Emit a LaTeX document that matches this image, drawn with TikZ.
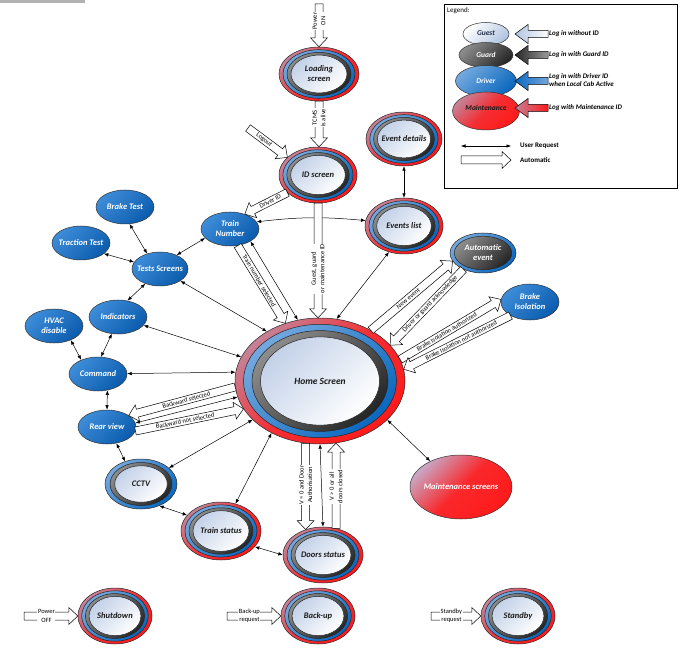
\documentclass[tikz,border=0pt]{standalone}
\usepackage{fontspec}
\setmainfont{Carlito}
\usetikzlibrary{shapes.geometric,calc,arrows.meta}

\definecolor{ringred}{HTML}{FF1A1A}
\definecolor{ringmauve}{HTML}{C68196}
\definecolor{ringblueL}{HTML}{73A8DE}
\definecolor{ringblueD}{HTML}{0A68BE}
\definecolor{ringdarkL}{HTML}{8C8C8C}
\definecolor{ringdarkD}{HTML}{262626}
\definecolor{coreL}{HTML}{C3D1E8}
\definecolor{nodeblueL}{HTML}{3C8CD8}
\definecolor{nodeblueD}{HTML}{0C5CAE}
\definecolor{maintL}{HTML}{C9A6C4}
\definecolor{guestL}{HTML}{AFC3E0}
\definecolor{navytext}{HTML}{1F2D4A}

\tikzset{
  outline/.style={draw=black!85, line width=0.5pt},
  redring/.style={outline, top color=ringmauve, bottom color=ringred, middle color=ringred!80!ringmauve, shading angle=45},
  bluering/.style={outline, top color=ringblueL, bottom color=ringblueD, shading angle=45},
  darkring/.style={outline, top color=ringdarkL, bottom color=ringdarkD, shading angle=45},
  corefill/.style={outline, top color=coreL, bottom color=white, shading angle=45},
  stateshape/.style={ellipse, inner sep=0pt, draw=none},
  statetext/.style={font=\fontsize{8.5}{10}\selectfont\bfseries\itshape, align=center, text=black!90, inner sep=0pt},
  bluestate/.style={ellipse, inner sep=0pt, draw=black!80, line width=0.5pt,
    top color=nodeblueL, bottom color=nodeblueD, shading angle=45},
  bluetext/.style={font=\fontsize{8.5}{10}\selectfont\bfseries\itshape, align=center, text=white, inner sep=0pt},
  ureq/.style={<->, line width=0.5pt, black},
  flowbody/.style={draw=black, line width=0.5pt, fill=white, line join=miter},
  flowlabel/.style={font=\fontsize{6.5}{8.5}\selectfont, fill=white, inner sep=0.6pt, align=center},
  legtext/.style={font=\fontsize{7}{8.5}\selectfont\bfseries\itshape, anchor=west, align=left, inner sep=0pt},
  legkey/.style={font=\fontsize{7}{8.5}\selectfont\bfseries, anchor=west, inner sep=0pt},
}

% state with red, blue and dark rings around a light core
\newcommand{\ringstate}[6][]{%
  \path[redring]  #3 ellipse [x radius=#4pt, y radius=#5pt];
  \path[bluering] #3 ellipse [x radius=0.9*#4pt, y radius=0.9*#5pt];
  \path[darkring] #3 ellipse [x radius=0.8*#4pt, y radius=0.8*#5pt];
  \path[corefill] #3 ellipse [x radius=0.7*#4pt, y radius=0.7*#5pt];
  \node[stateshape, minimum width=2*#4pt, minimum height=2*#5pt] (#2) at #3 {};
  \node[statetext,#1] (#2-text) at #3 {#6};
}

% plain blue state
\newcommand{\bluestate}[5]{%
  \node[bluestate, minimum width=2*#3pt, minimum height=2*#4pt] (#1) at #2 {};
  \node[bluetext] (#1-text) at #2 {#5};
}

% hollow block arrow for automatic transitions
\newcount\flowidx
\def\flowshaft{4pt}
\def\flowwing{8.5pt}
\def\flowhead{9pt}
\newcommand{\autoflow}[6][]{%
  \global\advance\flowidx by 1
  \coordinate (af-a) at #2;
  \coordinate (af-b) at #3;
  \coordinate (af-h) at ($(af-b)!\flowhead!(af-a)$);
  \draw[flowbody,#1] ($(af-a)!\flowshaft!90:(af-b)$) -- ($(af-h)!\flowshaft!90:(af-b)$)
    -- ($(af-h)!\flowwing!90:(af-b)$) -- (af-b) -- ($(af-h)!\flowwing!-90:(af-b)$)
    -- ($(af-h)!\flowshaft!-90:(af-b)$) -- ($(af-a)!\flowshaft!-90:(af-b)$) -- cycle;
  \if\relax\detokenize{#6}\relax\else
    \node[flowlabel, rotate=#5] (flowlabel\the\flowidx) at ($(af-a)!#4!(af-h)$) {#6};
  \fi
}

\begin{document}
\begin{tikzpicture}[x=1pt, y=-1pt, >={Latex[length=4.5pt,width=3.5pt]}]
\useasboundingbox (0,0) rectangle (681,650);
\fill[black!30] (0,0) rectangle (85,3);

% ---------- ringed states ----------
\ringstate{loading}{(319,74)}{40}{27}{Loading\\screen}
\ringstate{idscr}{(318,175)}{39}{28}{ID screen}
\ringstate{evdet}{(404,139)}{38}{27}{Event details}
\ringstate{evlist}{(404,226)}{39}{28}{Events list}
\ringstate[font=\fontsize{9.5}{11}\selectfont\bfseries\itshape]{home}{(320,381)}{85}{63}{Home Screen}
\ringstate{trainst}{(221,531)}{40}{29}{Train status}
\ringstate{doors}{(323,555)}{40}{28}{Doors status}
\ringstate{shutdown}{(115,616)}{37}{28}{Shutdown}
\ringstate{backup}{(318,616)}{37}{28}{Back-up}
\ringstate{standby}{(518,616)}{37}{28}{Standby}

% CCTV: blue and dark rings only
\path[bluering] (141,484) ellipse [x radius=36pt, y radius=25pt];
\path[darkring] (141,484) ellipse [x radius=0.86*36pt, y radius=0.86*25pt];
\path[corefill] (141,484) ellipse [x radius=0.73*36pt, y radius=0.73*25pt];
\node[stateshape, minimum width=72pt, minimum height=50pt] (cctv) at (141,484) {};
\node[statetext] (cctv-text) at (141,484) {CCTV};

% Automatic event: blue ring around a dark core
\path[bluering] (483,253) ellipse [x radius=33pt, y radius=20pt];
\path[darkring] (483,253) ellipse [x radius=0.87*33pt, y radius=0.84*20pt];
\node[stateshape, minimum width=66pt, minimum height=40pt] (autoev) at (483,253) {};
\node[bluetext] (autoev-text) at (483,253) {Automatic\\event};

% Maintenance screens
\node[ellipse, inner sep=0pt, draw=black!80, line width=0.5pt, minimum width=102pt, minimum height=64pt,
  top color=maintL, bottom color=ringred, middle color=ringred!90!maintL, shading angle=45] (maint) at (461,487) {};
\node[bluetext] (maint-text) at (461,487) {Maintenance screens};

% ---------- blue states ----------
\bluestate{trainnum}{(230,229)}{29}{17}{Train\\Number}
\bluestate{braket}{(125,207)}{29}{17}{Brake Test}
\bluestate{traction}{(81,243)}{29}{17}{Traction Test}
\bluestate{tests}{(160,269)}{28}{17}{Tests Screens}
\bluestate{indic}{(118,317)}{29}{17}{Indicators}
\bluestate{hvac}{(54,326)}{29}{17}{HVAC\\disable}
\bluestate{command}{(98,374)}{29}{17}{Command}
\bluestate{rear}{(107,427)}{29}{17}{Rear view}
\bluestate{brakeiso}{(530,302)}{29}{18}{Brake\\Isolation}

% ---------- user requests ----------
\draw[ureq] (evdet.south) -- (evlist.north);
\draw[ureq] (trainnum.15) to[bend left=6] (evlist.172);
\draw[ureq] (tests.40) -- (trainnum.-160);
\draw[ureq] (braket.-75) -- (tests.130);
\draw[ureq] (traction.-25) -- (tests.165);
\draw[ureq] (tests.-135) -- (indic.60);
\draw[ureq] (tests) -- (home.137);
\draw[ureq] (indic) -- (home.163);
\draw[ureq] (hvac.-40) -- (command.140);
\draw[ureq] (indic.-110) -- (command.80);
\draw[ureq] (command) -- (home.174);
\draw[ureq] (command.-60) -- (rear.north);
\draw[ureq] (rear.8) -- (home.-169);
\draw[ureq] (rear.-60) -- (cctv.125);
\draw[ureq] (home) -- (cctv);
\draw[ureq] (home.-133) -- (trainst.62);
\draw[ureq] (cctv.-50) -- (trainst.155);
\draw[ureq] (trainst.-25) -- (doors.180);
\draw[ureq] (home.south) -- (doors.north);
\draw[ureq] (home.-30) -- (maint.140);
\draw[ureq] (home.75) -- (evlist.240);
\draw[ureq] (trainnum.-31) -- (home.110);

% ---------- automatic transitions ----------
\coordinate (poweron) at (319,4);
\coordinate (logout) at (248,128);
\autoflow{(poweron)}{(loading.north)}{0.5}{90}{Power\\ON}
\autoflow{(loading.south)}{(loading.south |- idscr.north)}{0.45}{90}{TCMS\\is alive}
\autoflow{(logout)}{(idscr.150)}{0.5}{-38}{Logout}
\autoflow{(idscr.-150)}{(trainnum.45)}{0.5}{27}{Driver ID}
\autoflow{(idscr.south)}{(idscr.south |- home.north)}{0.62}{90}{Guest, guard\\or maintenance ID}
\autoflow{(trainnum.-65)}{(home.121)}{0.5}{-59}{Train number selected}
\autoflow{(home.-176)}{(rear.28)}{0.5}{15}{Backward selected}
\autoflow{(rear.-8)}{(home.-160)}{0.5}{11.5}{Backward not selected}
\autoflow{(home.-103)}{(home.-103 |- doors.124)}{0.54}{90}{V = 0 and Door\\Authorisation}
\autoflow{(doors.64)}{(doors.64 |- home.-76)}{0.55}{90}{V > 0 or all\\doors closed}
\autoflow{(home.45)}{(autoev.195)}{0.5}{40}{New event}
\autoflow{(autoev.-140)}{(home.27)}{0.5}{46}{Driver or guard acknowledge}
\autoflow{(home.15)}{(brakeiso.175)}{0.5}{31}{Brake Isolation authorized}
\autoflow{(brakeiso.-145)}{(home.8)}{0.5}{27}{Brake Isolation not authorized}

\coordinate (poweroff) at (24,616);
\coordinate (backupreq) at (227,616);
\coordinate (standbyreq) at (431,616);
\autoflow{(poweroff)}{(shutdown.west)}{0.5}{0}{Power\\OFF}
\autoflow{(backupreq)}{(backup.west)}{0.5}{0}{Back-up\\request}
\autoflow{(standbyreq)}{(standby.west)}{0.5}{0}{Standby\\request}

% ---------- legend ----------
\draw[line width=0.6pt] (444,4) rectangle (677,188);
\node[anchor=west, font=\fontsize{7}{8}\selectfont, inner sep=0pt] (legendtitle) at (447,11) {Legend:};

\node[ellipse, inner sep=0pt, draw=black!80, line width=0.5pt, minimum width=46pt, minimum height=23pt,
  top color=white, bottom color=guestL, shading angle=45] (lguest) at (486,34) {};
\node[ellipse, inner sep=0pt, draw=black!80, line width=0.5pt, minimum width=54pt, minimum height=25pt,
  top color=ringdarkL, bottom color=ringdarkD, shading angle=45] (lguard) at (486,55) {};
\node[ellipse, inner sep=0pt, draw=black!80, line width=0.5pt, minimum width=61pt, minimum height=31pt,
  top color=ringblueL, bottom color=ringblueD, shading angle=45] (ldriver) at (486,81) {};
\node[ellipse, inner sep=0pt, draw=black!80, line width=0.5pt, minimum width=67pt, minimum height=38pt,
  top color=ringmauve, bottom color=ringred, middle color=ringred!80!ringmauve, shading angle=45] (lmaint) at (486,111) {};
\node[statetext, font=\fontsize{7.5}{9}\selectfont\bfseries\itshape, text=navytext] (lguest-text) at (486,33) {Guest};
\node[bluetext, font=\fontsize{7.5}{9}\selectfont\bfseries\itshape] (lguard-text) at (486,55) {Guard};
\node[bluetext, font=\fontsize{7.5}{9}\selectfont\bfseries\itshape] (ldriver-text) at (486,81) {Driver};
\node[statetext, font=\fontsize{7.5}{9}\selectfont\bfseries\itshape] (lmaint-text) at (486,108) {Maintenance};

\coordinate (lga1) at (548,34);  \coordinate (lgb1) at (515,34);
\coordinate (lga2) at (548,55);  \coordinate (lgb2) at (515,55);
\coordinate (lga3) at (548,81);  \coordinate (lgb3) at (515,81);
\coordinate (lga4) at (548,108); \coordinate (lgb4) at (515,108);
\begin{scope}
  \def\flowshaft{3.5pt}\def\flowwing{9.5pt}\def\flowhead{13pt}
  \autoflow[left color=guestL, right color=white]{(lga1)}{(lgb1)}{}{}{}
  \autoflow[left color=black!85, right color=black!40]{(lga2)}{(lgb2)}{}{}{}
  \autoflow[left color=ringblueD, right color=ringblueL]{(lga3)}{(lgb3)}{}{}{}
  \autoflow[left color=ringmauve, right color=ringred]{(lga4)}{(lgb4)}{}{}{}
\end{scope}
\node[legtext] (lgt1) at (549,34) {Log in without ID};
\node[legtext] (lgt2) at (549,55) {Log in with Guard ID};
\node[legtext] (lgt3) at (549,80) {Log in with Driver ID\\when Local Cab Active};
\node[legtext] (lgt4) at (549,108) {Log with Maintenance ID};

\coordinate (lgu1) at (461,146); \coordinate (lgu2) at (511,146);
\draw[ureq] (lgu1) -- (lgu2);
\node[legkey] (lgkey1) at (520,146) {User Request};
\coordinate (lgf1) at (461,160); \coordinate (lgf2) at (511,160);
\autoflow{(lgf1)}{(lgf2)}{}{}{}
\node[legkey] (lgkey2) at (520,160) {Automatic};
\end{tikzpicture}
\end{document}
